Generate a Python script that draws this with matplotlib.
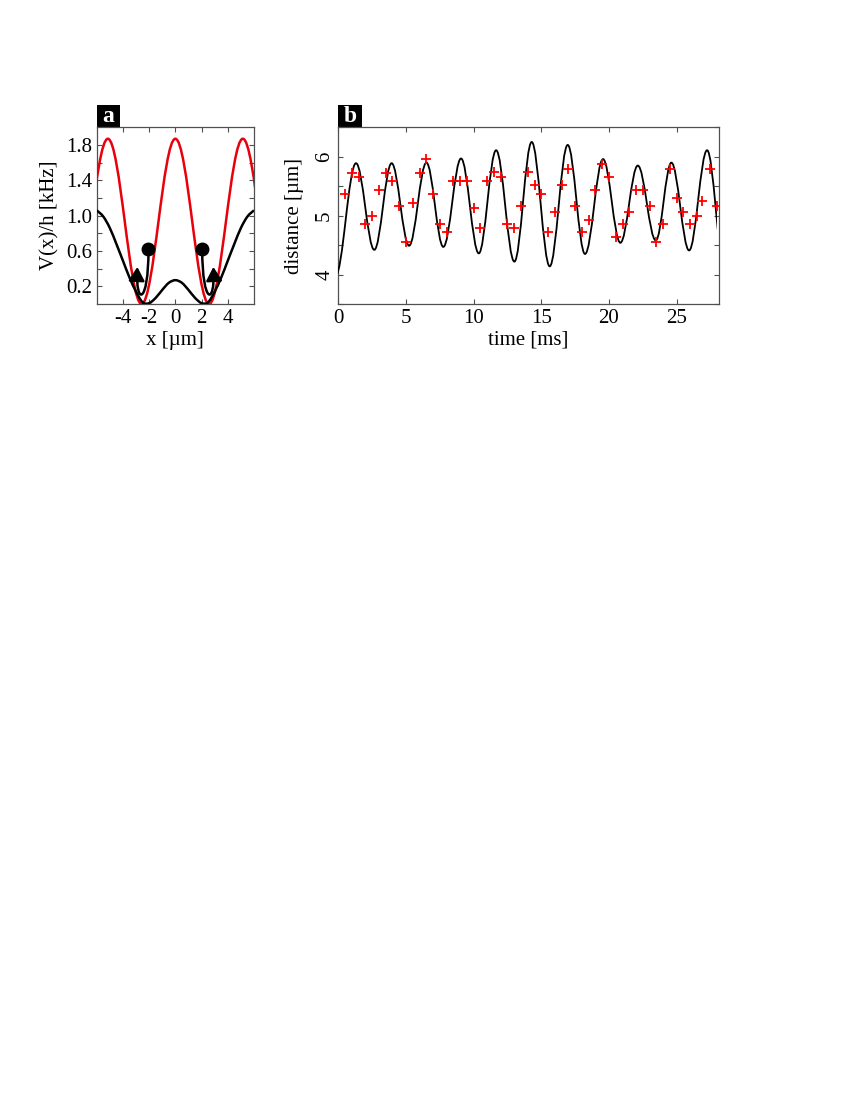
import numpy as np
import matplotlib
matplotlib.use("Agg")
import matplotlib.pyplot as plt
from matplotlib.path import Path
from matplotlib.patches import PathPatch, FancyArrowPatch, Rectangle

plt.rcParams['font.family'] = ['Liberation Serif', 'DejaVu Serif']
plt.rcParams['axes.unicode_minus'] = False

# ---------------- Panel a data ----------------
# red potential: positions / values of its extrema (outer troughs lie beyond the frame)
red_ext_x = [-7.72, -5.15, -2.575, 0.0, 2.575, 5.15, 7.72]
red_ext_v = [0.0, 1.87, 0.0, 1.87, 0.0, 1.87, 0.0]
# black potential: values read every 0.5 um
black_x = [-6.0, -5.5, -5.0, -4.5, -4.0, -3.5, -3.0, -2.5, -2.0, -1.5, -1.0, -0.5, 0.0,
           0.5, 1.0, 1.5, 2.0, 2.5, 3.0, 3.5, 4.0, 4.5, 5.0, 5.5, 6.0]
black_v = [1.06, 0.99, 0.86, 0.68, 0.49, 0.30, 0.14, 0.02, 0.01, 0.07, 0.16, 0.24, 0.27,
           0.24, 0.16, 0.07, 0.01, 0.02, 0.14, 0.30, 0.49, 0.68, 0.86, 0.99, 1.06]
# atoms (balls) and the arrows of their motion into the wells
ball_x = [-2.05, 2.05]
ball_v = [0.62, 0.62]
arrow_tip_x = [-2.9, 2.9]
arrow_tip_v = [0.42, 0.42]
a_xticks = [-4, -2, 0, 2, 4]
a_yticks = [0.2, 0.6, 1.0, 1.4, 1.8]
a_yminor = [0.4, 0.8, 1.2, 1.6]

# ---------------- Panel b data ----------------
meas_t = [0.5, 1.0, 1.5, 2.0, 2.5, 3.0, 3.5, 4.0, 4.5, 5.0, 5.5, 6.0, 6.5, 7.0, 7.5, 8.0,
          8.5, 9.0, 9.5, 10.0, 10.5, 11.0, 11.5, 12.0, 12.5, 13.0, 13.5, 14.0, 14.5, 15.0,
          15.5, 16.0, 16.5, 17.0, 17.5, 18.0, 18.5, 19.0, 19.5, 20.0, 20.5, 21.0, 21.5,
          22.0, 22.5, 23.0, 23.5, 24.0, 24.5, 25.0, 25.5, 26.0, 26.5, 26.85, 27.5, 28.0]
meas_d = [5.37, 5.73, 5.66, 4.86, 5.00, 5.44, 5.73, 5.58, 5.16, 4.56, 5.22, 5.73, 5.96,
          5.37, 4.86, 4.72, 5.59, 5.59, 5.59, 5.13, 4.79, 5.59, 5.74, 5.66, 4.86, 4.79,
          5.16, 5.74, 5.52, 5.37, 4.72, 5.07, 5.52, 5.80, 5.16, 4.72, 4.93, 5.44, 5.88,
          5.66, 4.64, 4.86, 5.07, 5.44, 5.44, 5.16, 4.56, 4.86, 5.80, 5.30, 5.07, 4.86,
          5.00, 5.25, 5.80, 5.16]
# theory curve: times / values of its extrema (first and last lie outside the drawn range)
fit_ext_t = [-0.22, 1.31, 2.66, 3.94, 5.23, 6.51, 7.76, 9.07, 10.38, 11.66, 13.01, 14.29,
             15.62, 16.95, 18.23, 19.56, 20.84, 22.13, 23.46, 24.61, 25.92, 27.25, 28.5]
fit_ext_d = [3.97, 5.89, 4.42, 5.89, 4.49, 5.90, 4.47, 5.97, 4.36, 6.11, 4.22, 6.25,
             4.14, 6.20, 4.35, 5.96, 4.54, 5.85, 4.58, 5.90, 4.41, 6.11, 4.20]
fit_t_end = 28.0
b_xticks = [0, 5, 10, 15, 20, 25]
b_yticks = [4, 5, 6]
b_yminor = [3.5, 4.5, 5.5, 6.5]


def extrema_path(xs, ys, k=0.3634):
    """Cubic Bezier path through extrema with horizontal tangents."""
    verts = [(xs[0], ys[0])]
    codes = [Path.MOVETO]
    for i in range(len(xs) - 1):
        dx = xs[i + 1] - xs[i]
        verts += [(xs[i] + k * dx, ys[i]), (xs[i + 1] - k * dx, ys[i + 1]),
                  (xs[i + 1], ys[i + 1])]
        codes += [Path.CURVE4] * 3
    return Path(verts, codes)


def smooth_path(xs, ys):
    """Catmull-Rom curve through points, expressed as Bezier segments."""
    P = np.column_stack([xs, ys]).astype(float)
    n = len(P)
    verts = [tuple(P[0])]
    codes = [Path.MOVETO]
    for i in range(n - 1):
        p0 = P[i - 1] if i > 0 else P[i]
        p3 = P[i + 2] if i + 2 < n else P[i + 1]
        c1 = P[i] + (P[i + 1] - p0) / 6.0
        c2 = P[i + 1] - (p3 - P[i]) / 6.0
        verts += [tuple(c1), tuple(c2), tuple(P[i + 1])]
        codes += [Path.CURVE4] * 3
    return Path(verts, codes)


FS = 15
spine_col = '#505050'

fig = plt.figure(figsize=(8.5, 11), dpi=100)
axa = fig.add_axes([0.1138, 0.7236, 0.1850, 0.1607])
axb = fig.add_axes([0.3980, 0.7236, 0.4479, 0.1607])

for ax in (axa, axb):
    for s in ax.spines.values():
        s.set_color(spine_col)
        s.set_linewidth(0.9)
    ax.tick_params(which='both', direction='in', top=True, right=True, length=3.5,
                   width=0.8, color=spine_col, labelsize=FS, pad=3)
    ax.tick_params(axis='x', pad=3.5)

# ---- panel a ----
axa.add_patch(PathPatch(extrema_path(red_ext_x, red_ext_v), fill=False,
                        edgecolor='#e8000b', lw=1.8, zorder=3))
axa.add_patch(PathPatch(smooth_path(black_x, black_v), fill=False,
                        edgecolor='black', lw=1.8, zorder=3))
for bx, bv, tx, tv in zip(ball_x, ball_v, arrow_tip_x, arrow_tip_v):
    # curved path from the ball down through the well bottom and up to the arrow tip
    p = Path([(bx, bv), (bx, -0.02), (tx + 0.15 * np.sign(bx), -0.02), (tx, tv)],
             [Path.MOVETO, Path.CURVE4, Path.CURVE4, Path.CURVE4])
    arr = FancyArrowPatch(path=p, arrowstyle='-|>,head_length=0.55,head_width=0.32',
                          mutation_scale=15, color='black', lw=1.8, zorder=4)
    axa.add_patch(arr)
axa.plot(ball_x, ball_v, 'o', color='black', ms=9, zorder=5)

axa.set_xlim(-6, 6)
axa.set_ylim(0, 2.0)
axa.set_xticks(a_xticks)
axa.set_yticks(a_yticks)
axa.set_yticks(a_yminor, minor=True)
axa.set_yticklabels(['%.1f' % v for v in a_yticks])
axa.set_xlabel('x [µm]', fontsize=FS, labelpad=2)
axa.set_ylabel('V(x)/h [kHz]', fontsize=FS, labelpad=5)

# ---- panel b ----
fit_patch = PathPatch(extrema_path(fit_ext_t, fit_ext_d), fill=False,
                      edgecolor='black', lw=1.3, zorder=3)
axb.add_patch(fit_patch)
fit_patch.set_clip_path(Rectangle((0, 3.5), fit_t_end, 3.0, transform=axb.transData))
axb.plot(meas_t, meas_d, '+', color='#ff0000', ms=7, mew=1.3, zorder=4)

axb.set_xlim(0, 28.13)
axb.set_ylim(3.5, 6.5)
axb.set_xticks(b_xticks)
axb.set_yticks(b_yticks)
axb.set_yticks(b_yminor, minor=True)
axb.tick_params(axis='y', labelrotation=90)
for lab in axb.get_yticklabels():
    lab.set_va('center')
axb.set_xlabel('time [ms]', fontsize=FS, labelpad=2)
axb.set_ylabel('distance [µm]', fontsize=FS, labelpad=8)

# ---- panel letters ----
for ax, letter, w in ((axa, 'a', 23.5 / 157.3), (axb, 'b', 23.5 / 380.7)):
    h = 22.0 / 176.7
    ax.add_patch(Rectangle((0, 1.0), w, h, transform=ax.transAxes, facecolor='black',
                           edgecolor='none', clip_on=False))
    ax.text(w / 2, 1.0 + h / 2, letter, transform=ax.transAxes, color='white',
            ha='center', va='center', fontsize=17, fontweight='bold')

fig.savefig('out.png', dpi=100)
